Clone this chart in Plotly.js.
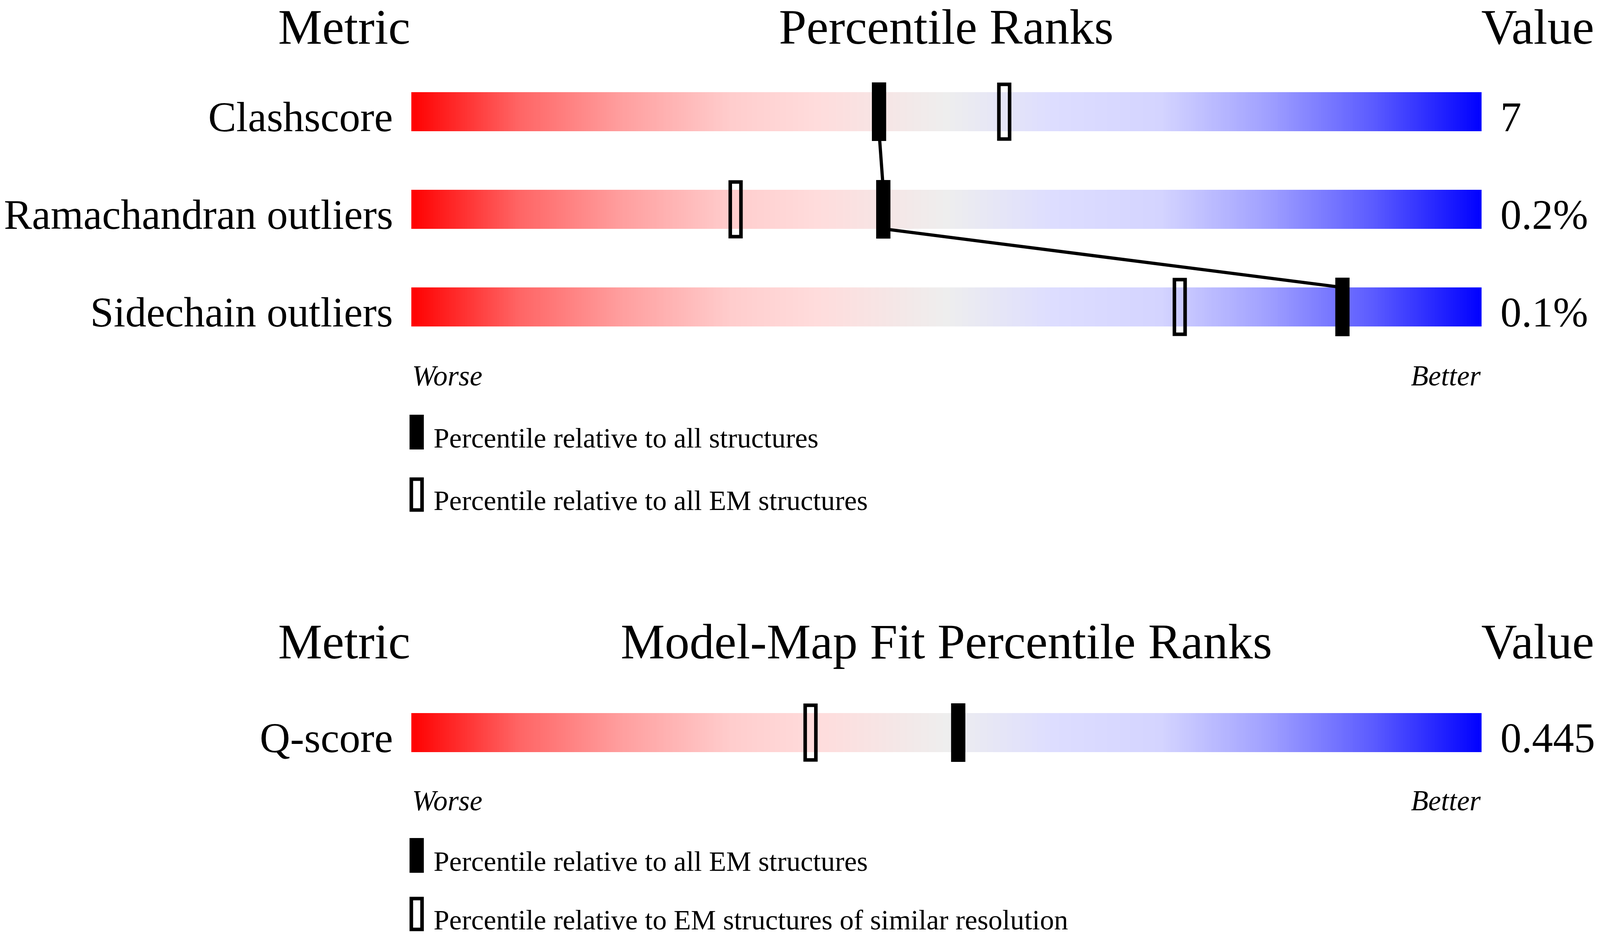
<!DOCTYPE html>
<html>
<head>
<meta charset="utf-8">
<script src="https://cdn.plot.ly/plotly-3.0.1.min.js"></script>
<style>html,body{margin:0;padding:0;background:#fff;overflow:hidden;}#chart{width:100vw;height:100vh;}</style>
</head>
<body>
<div id="chart"></div>
<script>
// ---------- data ----------
const headersTop = ['Metric', 'Percentile Ranks', 'Value'];
const headersFit = ['Metric', 'Model-Map Fit Percentile Ranks', 'Value'];
const metricsTop = ['Clashscore', 'Ramachandran outliers', 'Sidechain outliers'];
const valuesTop = ['7', '0.2%', '0.1%'];
const pctAllTop = [43.7, 44.1, 87.0];      // filled marker: relative to all structures
const pctEMTop = [55.4, 30.3, 71.8];       // open marker: relative to all EM structures
const metricsFit = ['Q-score'];
const valuesFit = ['0.445'];
const pctAllEMFit = [51.1];                // filled marker: relative to all EM structures
const pctSimResFit = [37.3];               // open marker: EM structures of similar resolution
const scaleEnds = ['Worse', 'Better'];
const legendTop = ['Percentile relative to all structures', 'Percentile relative to all EM structures'];
const legendFit = ['Percentile relative to all EM structures', 'Percentile relative to EM structures of similar resolution'];

// ---------- geometry / style (design frame 4485 x 2402) ----------
const DW = 4485, DH = 2402;
const W = window.innerWidth || DW, H = window.innerHeight || DH;
const s = Math.min(W / DW, H / DH);
const px = v => v / DW;
const py = v => 1 - v / DH;
const FONT = '"Liberation Serif", "Times New Roman", Times, serif';
const barLeft = 1153, barRight = 4153;
const unitPx = (barRight - barLeft) / 100;   // design px per percentile unit
const sliderScale = [
  [0.00, 'rgb(255,0,0)'],
  [0.10, 'rgb(255,100,100)'],
  [0.20, 'rgb(255,160,160)'],
  [0.30, 'rgb(255,205,205)'],
  [0.38, 'rgb(255,220,220)'],
  [0.50, 'rgb(238,238,238)'],
  [0.60, 'rgb(221,221,255)'],
  [0.70, 'rgb(212,212,255)'],
  [0.80, 'rgb(160,160,255)'],
  [0.90, 'rgb(90,90,255)'],
  [1.00, 'rgb(0,0,255)']
];
const NCOL = 600;
const xEdges = [], xCenters = [];
for (let i = 0; i <= NCOL; i++) xEdges.push(i * 100 / NCOL);
for (let i = 0; i < NCOL; i++) xCenters.push((i + 0.5) * 100 / NCOL);

const traces = [];
const annotations = [];
const shapes = [];

function section(metrics, values, pctFilled, pctOpen, xa, ya, connect) {
  const rows = metrics.map((_, i) => i);
  // gradient slider per metric
  rows.forEach(r => {
    traces.push({
      type: 'heatmap', x: xEdges, y: [r - 0.2, r + 0.2], z: [xCenters],
      zmin: 0, zmax: 100, colorscale: sliderScale, showscale: false,
      hoverinfo: 'skip', xaxis: xa, yaxis: ya
    });
  });
  // line joining the filled markers
  if (connect) {
    const lx = [], ly = [];
    rows.forEach(r => {
      if (r > 0) { lx.push(pctFilled[r]); ly.push(r - 0.2); }
      if (r < rows.length - 1) { lx.push(pctFilled[r]); ly.push(r + 0.2); }
    });
    traces.push({
      type: 'scatter', mode: 'lines', x: lx, y: ly,
      line: {color: 'black', width: 9 * s}, hoverinfo: 'skip', xaxis: xa, yaxis: ya
    });
  }
  // open markers
  traces.push({
    type: 'bar', x: pctOpen, y: rows.map(() => 0.56), base: rows.map(r => r - 0.28),
    width: 30 / unitPx, marker: {color: 'rgba(0,0,0,0)', line: {color: 'black', width: 10 * s}},
    hoverinfo: 'skip', xaxis: xa, yaxis: ya
  });
  // filled markers
  traces.push({
    type: 'bar', x: pctFilled, y: rows.map(() => 0.6), base: rows.map(r => r - 0.3),
    width: 40 / unitPx, marker: {color: 'black', line: {width: 0}},
    hoverinfo: 'skip', xaxis: xa, yaxis: ya
  });
  // metric names and values, baseline on the slider's lower edge
  const lblSize = 118;
  rows.forEach(r => {
    annotations.push({
      text: metrics[r], xref: 'paper', x: px(1104), xanchor: 'right',
      yref: ya, y: r + 0.2, yanchor: 'middle', yshift: 0.3375 * lblSize * s,
      showarrow: false, font: {family: FONT, size: lblSize * s, color: 'black'}
    });
    annotations.push({
      text: values[r], xref: 'paper', x: px(4204), xanchor: 'left',
      yref: ya, y: r + 0.2, yanchor: 'middle', yshift: 0.3375 * lblSize * s,
      showarrow: false, font: {family: FONT, size: lblSize * s, color: 'black'}
    });
  });
}

section(metricsTop, valuesTop, pctAllTop, pctEMTop, 'x', 'y', true);
section(metricsFit, valuesFit, pctAllEMFit, pctSimResFit, 'x2', 'y2', false);

function textAt(text, xPx, anchor, basePx, size, italic) {
  annotations.push({
    text: text, xref: 'paper', yref: 'paper', x: px(xPx), xanchor: anchor,
    y: py(basePx), yanchor: 'middle', yshift: 0.3375 * size * s, showarrow: false,
    font: {family: FONT, size: size * s, color: 'black', style: italic ? 'italic' : 'normal'}
  });
}

const hSize = 139;
[[headersTop, 112], [headersFit, 1686]].forEach(([h, b]) => {
  textAt(h[0], 1152, 'right', b, hSize);
  textAt(h[1], (barLeft + barRight) / 2, 'center', b, hSize);
  textAt(h[2], 4150, 'left', b, hSize);
});
[987, 2075].forEach(b => {
  textAt(scaleEnds[0], barLeft, 'left', b, 80, true);
  textAt(scaleEnds[1], barRight, 'right', b, 80, true);
});
function legend(items, top, step) {
  shapes.push({type: 'rect', xref: 'paper', yref: 'paper',
    x0: px(1148), x1: px(1188), y0: py(top), y1: py(top + 89),
    fillcolor: 'black', line: {width: 0}});
  textAt(items[0], 1213, 'left', top + 84, 79);
  const t2 = top + step;
  shapes.push({type: 'rect', xref: 'paper', yref: 'paper',
    x0: px(1153), x1: px(1183), y0: py(t2 + 5), y1: py(t2 + 84),
    fillcolor: 'rgba(0,0,0,0)', line: {color: 'black', width: 10 * s}});
  textAt(items[1], 1213, 'left', t2 + 84, 79);
}
legend(legendTop, 1062, 160);
legend(legendFit, 2146, 150);

const axX = {range: [0, 100], type: 'linear', visible: false, fixedrange: true,
  domain: [px(barLeft), px(barRight)], showgrid: false, zeroline: false};
const layout = {
  width: W, height: H,
  margin: {l: 0, r: 0, t: 0, b: 0},
  paper_bgcolor: 'white', plot_bgcolor: 'rgba(0,0,0,0)',
  showlegend: false, barmode: 'overlay', hovermode: false,
  xaxis: Object.assign({}, axX, {anchor: 'y'}),
  xaxis2: Object.assign({}, axX, {anchor: 'y2'}),
  yaxis: {range: [2.5, -0.5], domain: [py(911), py(161)], visible: false,
    fixedrange: true, showgrid: false, zeroline: false, anchor: 'x'},
  yaxis2: {range: [0.5, -0.5], domain: [py(2001), py(1751)], visible: false,
    fixedrange: true, showgrid: false, zeroline: false, anchor: 'x2'},
  annotations: annotations,
  shapes: shapes,
  font: {family: FONT}
};
Plotly.newPlot('chart', traces, layout, {staticPlot: true, displayModeBar: false});
</script>
</body>
</html>
